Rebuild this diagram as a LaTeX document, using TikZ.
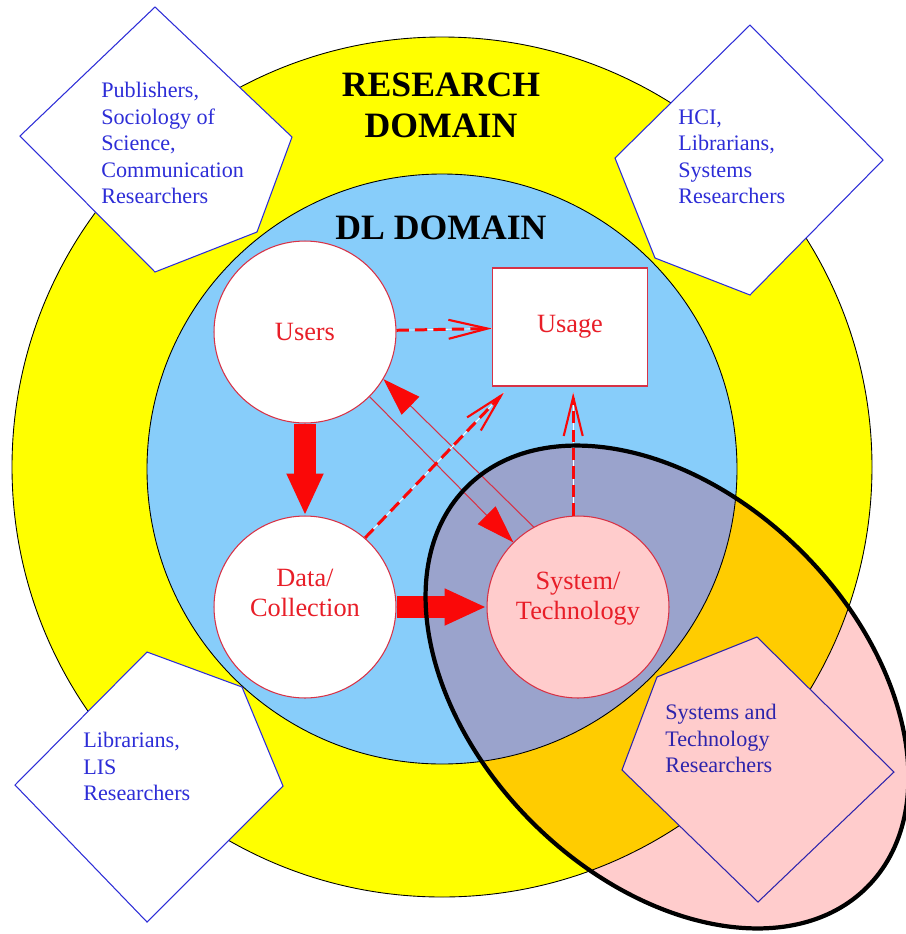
\documentclass[tikz,border=0pt]{standalone}
\usepackage{fontspec}
\setmainfont{Liberation Serif}
\usetikzlibrary{arrows.meta,positioning}
\definecolor{dlred}{RGB}{232,30,40}
\definecolor{arrred}{RGB}{250,8,8}
\definecolor{edgered}{RGB}{215,50,70}
\definecolor{ryellow}{RGB}{255,255,0}
\definecolor{dlblue}{RGB}{135,205,250}
\definecolor{tblue}{RGB}{45,45,215}
\definecolor{stpink}{RGB}{255,204,204}
\definecolor{storange}{RGB}{255,204,0}
\definecolor{stslate}{RGB}{154,163,204}
\definecolor{stviolet}{RGB}{45,36,172}

\begin{document}
\begin{tikzpicture}[x=0.02cm, y=-0.02cm,
  circ/.style={circle, draw=edgered, line width=0.6pt, fill=white, minimum size=3.64cm, inner sep=0pt, text=dlred, font=\fontsize{15}{17}\selectfont, align=center},
  txt/.style={inner sep=0pt, text=dlred, font=\fontsize{15}{17}\selectfont, align=center},
  who/.style={anchor=north west, inner sep=0pt, align=left, text=tblue, font=\fontsize{12.6}{15.1}\selectfont},
  title/.style={inner sep=0pt, align=center, font=\fontsize{20.3}{23.3}\selectfont\bfseries},
  quad/.style={draw=tblue, fill=white, line width=0.6pt},
  blockarrow/.style={arrred, line width=0.44cm, -{Triangle[length=0.84cm, width=0.68cm]}},
  slimarrow/.style={edgered, line width=0.6pt, -{Triangle[length=0.76cm, width=0.5cm, color=arrred]}},
  flowdash/.style={arrred, line width=1.7pt, dash pattern=on 7pt off 3.5pt,
    preaction={draw=white, line width=0.5pt, solid, -},
    -{Straight Barb[length=0.78cm, width=0.38cm, line width=1.2pt]}}]
\useasboundingbox (0,0) rectangle (906,934);

% domains
\fill[ryellow] (442,467) circle [radius=430];
\fill[dlblue] (442,469) circle [radius=295];
\begin{scope}
  \clip[rotate around={-45:(667,687)}] (667,687) ellipse [x radius=283, y radius=191];
  \fill[stpink] (0,0) rectangle (906,934);
  \fill[storange] (442,467) circle [radius=430];
  \fill[stslate] (442,469) circle [radius=295];
\end{scope}
\draw[line width=0.5pt] (442,467) circle [radius=430];
\draw[line width=0.5pt] (442,469) circle [radius=295];

% research communities
\draw[quad] (155,7) -- (292,137) -- (257,232) -- (155,272) -- (20,136) -- cycle;
\draw[quad] (750,25) -- (883,160) -- (750,295) -- (655,258) -- (615,158) -- cycle;
\draw[quad] (147,652) -- (242,687) -- (283,786) -- (147,922) -- (15,785) -- cycle;
\draw[quad, draw=stviolet, fill=stpink] (757,637) -- (894,772) -- (758,902) -- (622,770) -- (657,677) -- cycle;
\node[who] (pubs) at (101,82) {Publishers,\\Sociology of\\Science,\\Communication\\Researchers};
\node[who] (hci) at (678,109) {HCI,\\Librarians,\\Systems\\Researchers};
\node[who] (lis) at (83,732) {Librarians,\\LIS\\Researchers};
\node[who, text=stviolet] (sysres) at (665,704) {Systems and\\Technology\\Researchers};

\node[title] (research) at (441,105) {RESEARCH\\DOMAIN};
\node[title] (dl) at (441,228) {DL DOMAIN};

% DL components
\node[circ] (users) at (305,332) {Users};
\node[circ] (data) at (305,607) {};
\node[circ, fill=stpink] (system) at (578,607) {};
\node[draw=edgered, line width=0.6pt, fill=white, minimum width=3.1cm, minimum height=2.36cm, text=dlred, font=\fontsize{15}{17}\selectfont] (usage) at (570,327) {Usage};
\node[txt] (datatext) at (305,593) {Data/\\Collection};
\node[txt] (systext) at (578,599) {System/\\Technology};

\draw[blockarrow] (users) -- (data);
\draw[blockarrow] (data) -- (system);
\draw[slimarrow] (users.-45) -- (system.135);
\draw[slimarrow] (system.119) -- (users.-31);
\draw[flowdash] (users) -- (usage);
\draw[flowdash] (data.49) -- ([shift={(12,6)}]usage.south west);
\draw[flowdash, shorten >=0.12cm] (system.93) -- (system.93 |- usage.south);

\draw[line width=2.4pt, rotate around={-45:(667,687)}] (667,687) ellipse [x radius=283, y radius=191];
\end{tikzpicture}
\end{document}
